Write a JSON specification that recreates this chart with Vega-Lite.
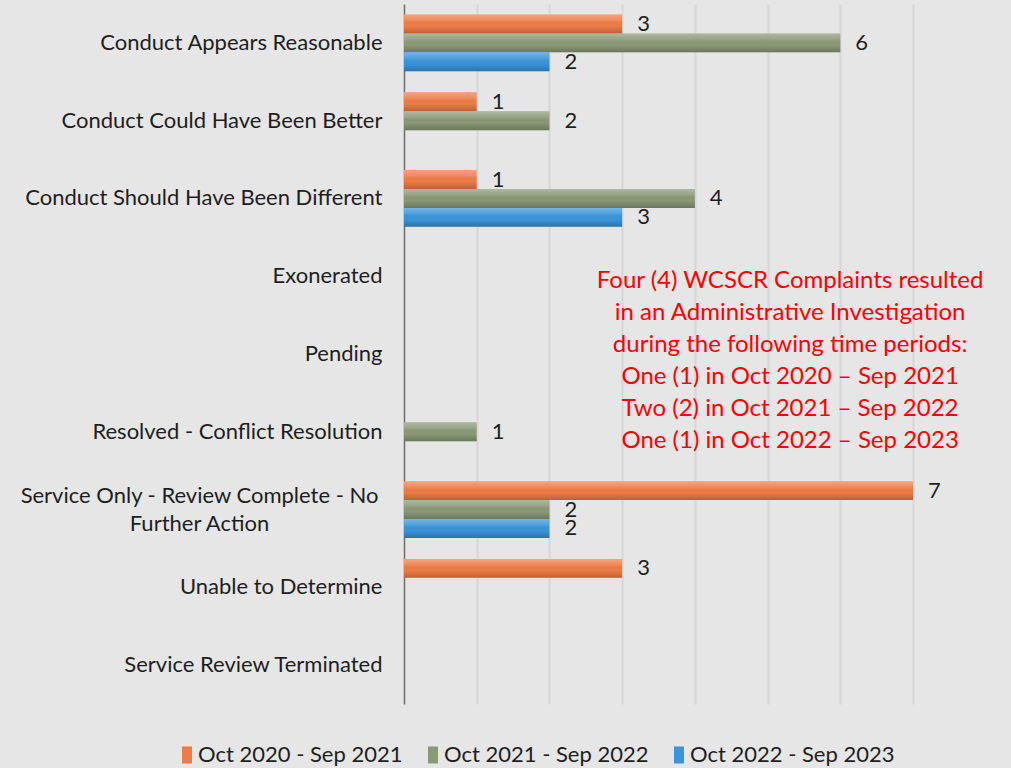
{
  "$schema": "https://vega.github.io/schema/vega-lite/v6.json",
  "width": 509,
  "height": 700,
  "autosize": {"type": "none"},
  "padding": {"left": 404, "top": 4, "right": 98, "bottom": 64},
  "background": "#e6e6e6",
  "config": {
    "view": {"stroke": null},
    "font": "Lato"
  },
  "data": {
    "values": [
      {"category": "Conduct Appears Reasonable", "period": "Oct 2020 - Sep 2021", "count": 3},
      {"category": "Conduct Appears Reasonable", "period": "Oct 2021 - Sep 2022", "count": 6},
      {"category": "Conduct Appears Reasonable", "period": "Oct 2022 - Sep 2023", "count": 2},
      {"category": "Conduct Could Have Been Better", "period": "Oct 2020 - Sep 2021", "count": 1},
      {"category": "Conduct Could Have Been Better", "period": "Oct 2021 - Sep 2022", "count": 2},
      {"category": "Conduct Should Have Been Different", "period": "Oct 2020 - Sep 2021", "count": 1},
      {"category": "Conduct Should Have Been Different", "period": "Oct 2021 - Sep 2022", "count": 4},
      {"category": "Conduct Should Have Been Different", "period": "Oct 2022 - Sep 2023", "count": 3},
      {"category": "Resolved - Conflict Resolution", "period": "Oct 2021 - Sep 2022", "count": 1},
      {"category": "Service Only - Review Complete - No Further Action", "period": "Oct 2020 - Sep 2021", "count": 7},
      {"category": "Service Only - Review Complete - No Further Action", "period": "Oct 2021 - Sep 2022", "count": 2},
      {"category": "Service Only - Review Complete - No Further Action", "period": "Oct 2022 - Sep 2023", "count": 2},
      {"category": "Unable to Determine", "period": "Oct 2020 - Sep 2021", "count": 3}
    ]
  },
  "encoding": {
    "y": {
      "field": "category",
      "type": "nominal",
      "scale": {
        "domain": [
          "Conduct Appears Reasonable",
          "Conduct Could Have Been Better",
          "Conduct Should Have Been Different",
          "Exonerated",
          "Pending",
          "Resolved - Conflict Resolution",
          "Service Only - Review Complete - No Further Action",
          "Unable to Determine",
          "Service Review Terminated"
        ],
        "paddingInner": 0.27,
        "paddingOuter": 0.135
      },
      "axis": {
        "title": null,
        "ticks": false,
        "domain": true,
        "domainColor": "#6e6e6e",
        "domainWidth": 1.5,
        "labelFontSize": 22,
        "labelColor": "#1e1e1e",
        "labelLimit": 420,
        "labelLineHeight": 28,
        "labelBaseline": "middle",
        "labelAlign": {
          "condition": {"test": "datum.value == 'Service Only - Review Complete - No Further Action'", "value": "center"},
          "value": "right"
        },
        "labelPadding": {
          "condition": {"test": "datum.value == 'Service Only - Review Complete - No Further Action'", "value": 205},
          "value": 22
        },
        "labelOffset": {
          "condition": {"test": "datum.value == 'Service Only - Review Complete - No Further Action'", "value": -14},
          "value": 0
        },
        "labelExpr": "datum.value == 'Service Only - Review Complete - No Further Action' ? ['Service Only - Review Complete - No', 'Further Action'] : datum.value"
      }
    },
    "yOffset": {
      "field": "period",
      "type": "nominal",
      "scale": {
        "domain": ["Oct 2020 - Sep 2021", "Oct 2021 - Sep 2022", "Oct 2022 - Sep 2023"],
        "paddingInner": 0,
        "paddingOuter": 0
      }
    },
    "x": {
      "field": "count",
      "type": "quantitative",
      "scale": {"domain": [0, 7], "nice": false, "zero": true},
      "axis": {
        "title": null,
        "labels": false,
        "ticks": false,
        "domain": false,
        "grid": true,
        "gridColor": "#d6d6d6",
        "gridWidth": 2,
        "values": [1, 2, 3, 4, 5, 6, 7]
      }
    }
  },
  "layer": [
    {
      "mark": {"type": "bar"},
      "encoding": {
        "color": {
          "field": "period",
          "type": "nominal",
          "scale": {
            "domain": ["Oct 2020 - Sep 2021", "Oct 2021 - Sep 2022", "Oct 2022 - Sep 2023"],
            "range": ["#ee7c47", "#8a9976", "#3a94da"]
          },
          "legend": {
            "title": null,
            "orient": "none",
            "direction": "horizontal",
            "legendX": -228,
            "legendY": 740,
            "padding": 0,
            "symbolType": "M-1,-1.7H1V1.7H-1Z",
            "symbolSize": 100,
            "symbolStrokeWidth": 0,
            "symbolOpacity": 1,
            "labelFontSize": 22,
            "labelColor": "#1e1e1e",
            "labelOffset": 0,
            "columnPadding": 19,
            "labelLimit": 300
          }
        }
      }
    },
    {
      "mark": {
        "type": "bar",
        "fill": {
          "gradient": "linear",
          "x1": 0, "y1": 0, "x2": 0, "y2": 1,
          "stops": [
            {"offset": 0, "color": "rgba(255,255,255,0.30)"},
            {"offset": 0.3, "color": "rgba(255,255,255,0.12)"},
            {"offset": 0.6, "color": "rgba(0,0,0,0.0)"},
            {"offset": 1, "color": "rgba(0,0,0,0.22)"}
          ]
        }
      }
    },
    {
      "mark": {"type": "text", "align": "left", "baseline": "middle", "dx": 15, "fontSize": 22, "color": "#1e1e1e"},
      "encoding": {
        "text": {"field": "count", "type": "quantitative"}
      }
    },
    {
      "data": {
        "values": [
          {"category": "Exonerated", "x": 5.31, "note": ["Four (4) WCSCR Complaints resulted", "in an Administrative Investigation", "during the following time periods:", "One (1) in Oct 2020 – Sep 2021", "Two (2) in Oct 2021 – Sep 2022", "One (1) in Oct 2022 – Sep 2023"]}
        ]
      },
      "mark": {"type": "text", "align": "center", "baseline": "middle", "dy": 5, "fontSize": 24, "lineHeight": 32, "color": "#ff0000"},
      "encoding": {
        "x": {"field": "x", "type": "quantitative"},
        "y": {"field": "category", "type": "nominal"},
        "yOffset": null,
        "text": {"field": "note"}
      }
    }
  ]
}
